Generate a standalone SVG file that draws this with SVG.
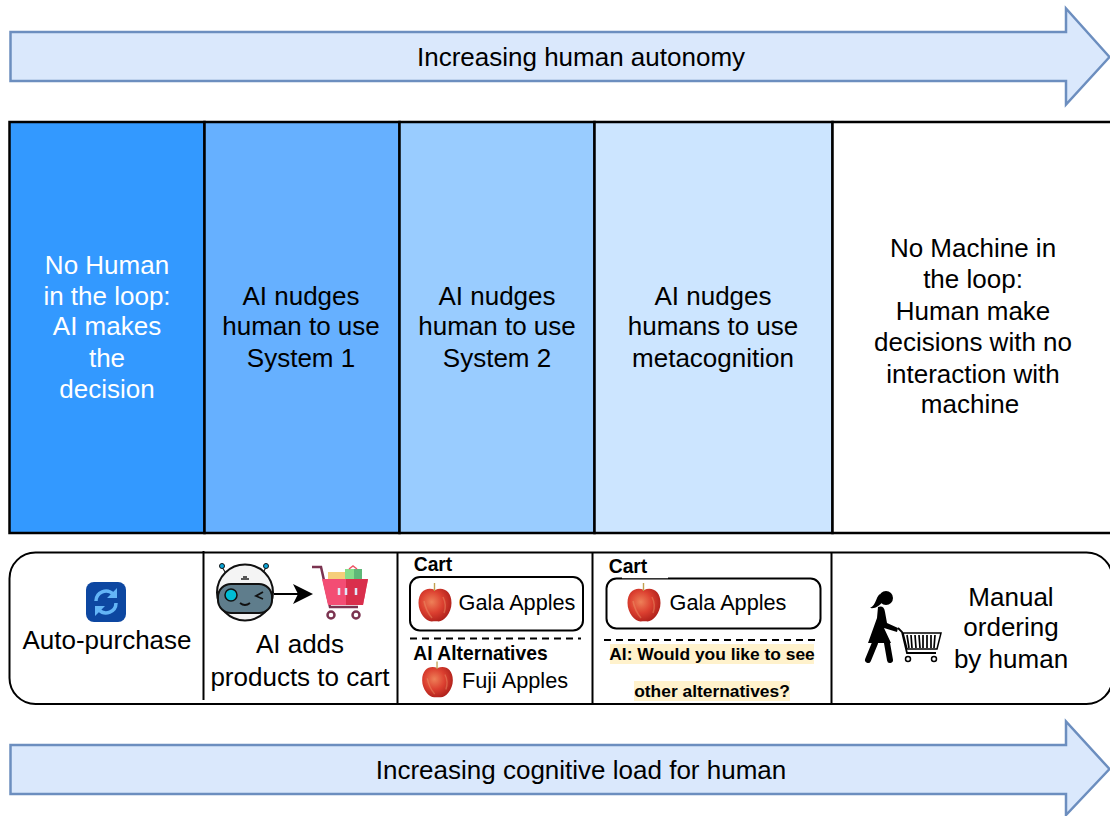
<svg xmlns="http://www.w3.org/2000/svg" width="1110" height="816" viewBox="0 0 1110 816">
<style>
text{font-family:"Liberation Sans",Arial,sans-serif;fill:#000;text-anchor:middle}
.t{font-size:26px}
.m{font-size:26px}
.w{font-size:26px;fill:#fff}
.g{font-size:21.700px}
.b{font-size:19.300px;font-weight:bold}
.q{font-size:17.400px;font-weight:bold}
.arrow{fill:#dae8fc;stroke:#6c8ebf;stroke-width:2.500}
.col{stroke:#000;stroke-width:2.500}
.div{stroke:#000;stroke-width:2;fill:none}
.dash{stroke:#000;stroke-width:2;stroke-dasharray:7 5;fill:none}
.box{fill:#fff;stroke:#000;stroke-width:2}
.hl{fill:#fff2cc}
</style>
<defs>
<radialGradient id="ap" cx="0.4" cy="0.4" r="0.68"><stop offset="0" stop-color="#ee8058"/><stop offset="0.5" stop-color="#dc4030"/><stop offset="1" stop-color="#a81c18"/></radialGradient>
<g id="apple"><path d="M0-15C-8-18.500-16.500-14-16.500-2C-16.500 8-9 16.500-3.500 16.500C-1.500 16.500 1.500 16 3.500 16.500C9 16.500 16.500 8 16.500-2C16.500-14 8-18.500 0-15Z" fill="url(#ap)"/><path d="M-.5-14V-22" stroke="#c0a050" stroke-width="1.400"/><path d="M-11-4Q-9 6-3 13M8-8Q12 0 9 8" fill="none" stroke="#f0a070" stroke-width="1.500" opacity=".4"/></g>
</defs>
<g id="top-arrow"><path class="arrow" d="M10.500 32H1066V8.500L1109.500 57L1066 104.500V81H10.500Z"/><text class="t" x="581" y="66">Increasing human autonomy</text></g>
<g id="bottom-arrow"><path class="arrow" d="M10.500 745H1066V721.500L1109.500 769L1066 815V794H10.500Z"/><text class="t" x="581" y="779">Increasing cognitive load for human</text></g>
<g id="col1"><rect class="col" x="9.500" y="122" width="195" height="411" fill="#3399ff"/><text class="w" x="107" y="274">No Human</text><text class="w" x="107" y="305">in the loop:</text><text class="w" x="107" y="335">AI makes</text><text class="w" x="107" y="367">the</text><text class="w" x="107" y="398">decision</text></g>
<g id="col2"><rect class="col" x="204.500" y="122" width="195" height="411" fill="#66b0ff"/><text class="m" x="301" y="305">AI nudges</text><text class="m" x="301" y="335">human to use</text><text class="m" x="301" y="367">System 1</text></g>
<g id="col3"><rect class="col" x="399.500" y="122" width="195" height="411" fill="#99ccff"/><text class="m" x="497" y="305">AI nudges</text><text class="m" x="497" y="335">human to use</text><text class="m" x="497" y="367">System 2</text></g>
<g id="col4"><rect class="col" x="594.500" y="122" width="238" height="411" fill="#cce5ff"/><text class="m" x="713" y="305">AI nudges</text><text class="m" x="713" y="335">humans to use</text><text class="m" x="713" y="367">metacognition</text></g>
<g id="col5"><rect class="col" x="832.500" y="122" width="290" height="411" fill="#fff"/><text class="m" x="973" y="257">No Machine in</text><text class="m" x="973" y="288">the loop:</text><text class="m" x="973" y="320">Human make</text><text class="m" x="973" y="351">decisions with no</text><text class="m" x="973" y="383">interaction with</text><text class="m" x="970" y="413">machine</text></g>
<g id="panel"><rect x="9.500" y="552.500" width="1103" height="151.500" rx="26" fill="#fff" stroke="#000" stroke-width="2"/><path class="div" d="M203.500 551V700M397.500 552V703M592.500 552V703M831.500 552V703"/></g>
<g id="auto-purchase"><rect x="86" y="582" width="40" height="40" rx="8" fill="#0d47a1"/><g fill="none" stroke="#64b5f6" stroke-width="3.500"><path d="M96 601A10 10 0 0 1 113 594"/><path d="M116 603A10 10 0 0 1 99 610"/></g><path d="M117 588V598H107Z M95 616V606H105Z" fill="#64b5f6"/><text class="m" x="107" y="649">Auto-purchase</text></g>
<g id="ai-adds"><path d="M222 567L227 575M266 567L262 575" stroke="#222" stroke-width="1.200"/><circle cx="222" cy="566" r="2.500" fill="#0aa5d8" stroke="#111"/><circle cx="266" cy="566" r="2.500" fill="#0aa5d8" stroke="#111"/><circle cx="245" cy="592.500" r="28" fill="#f4f4f4" stroke="#111" stroke-width="2"/><path d="M241 579H249M243 577H247" stroke="#222" stroke-width="1.300"/><rect x="218" y="584" width="54" height="29" rx="13" fill="#5f7d8c" stroke="#111" stroke-width="2"/><circle cx="231" cy="595" r="6" fill="#00bcd4" stroke="#111" stroke-width="1.500"/><path d="M263 592L256 596L263 599" fill="none" stroke="#111" stroke-width="1.800"/><path d="M240 603Q245 607 250 603" fill="none" stroke="#111" stroke-width="1.800"/><path d="M274 594H300" stroke="#000" stroke-width="2"/><path d="M313 594L293 584L298 594L293 604Z"/><g id="cart-icon"><rect x="328" y="572" width="18" height="10" fill="#f5ce7a"/><rect x="345" y="569" width="17" height="13" fill="#86dd8a"/><rect x="354" y="569" width="8" height="13" fill="#5fb878"/><path d="M349 569L353 566L357 569" fill="none" stroke="#ee5566" stroke-width="1.500"/><path d="M312 567H321L330 607H358" fill="none" stroke="#7b3350" stroke-width="2.500"/><path d="M322 579H368L363 605H328Z" fill="#f34d74"/><path d="M346 579H368L363 605H346Z" fill="#d92f4c"/><path d="M339 588V595M346 588V595M356 588V595" stroke="#e0e6f8" stroke-width="2.500"/><circle cx="331" cy="615" r="3.500" fill="#fff" stroke="#7b3350" stroke-width="2.500"/><circle cx="356" cy="615" r="3.500" fill="#fff" stroke="#7b3350" stroke-width="2.500"/></g><text class="m" x="300" y="653">AI adds</text><text class="m" x="300" y="686">products to cart</text></g>
<g id="cart-alternatives"><text class="b" x="433" y="571">Cart</text><rect class="box" x="410" y="577" width="173" height="53.500" rx="10"/><use href="#apple" transform="translate(435 605)"/><text class="g" x="517" y="610">Gala Apples</text><path class="dash" d="M410 638.500H581"/><text class="b" x="480.500" y="660">AI Alternatives</text><use href="#apple" transform="translate(437.500 682) scale(.93)"/><text class="g" x="515" y="688">Fuji Apples</text></g>
<g id="cart-prompt"><text class="b" x="628" y="573">Cart</text><rect class="box" x="606.500" y="578.500" width="214" height="50" rx="10"/><rect x="622" y="577" width="46" height="1.200" fill="#fff"/><use href="#apple" transform="translate(644 605)"/><text class="g" x="728" y="610">Gala Apples</text><path class="dash" d="M604 640H819"/><rect class="hl" x="610" y="644" width="204" height="20"/><rect class="hl" x="634" y="681" width="156" height="20"/><text class="q" x="712" y="660">AI: Would you like to see</text><text class="q" x="712" y="697">other alternatives?</text></g>
<g id="manual"><circle cx="886" cy="598" r="7" fill="#000"/><path d="M880 594C875 598 877 604 870 608C877 609 881 604 883 601Z"/><path d="M878 607Q884 605 885 612L887 623L898 628L897 632L884 628L891 643H868L877 618Z"/><path d="M875 643L868 660M887 643L890 660" stroke="#000" stroke-width="6" stroke-linecap="round" fill="none"/><path d="M898 628L902 632L907 653H936" fill="none" stroke="#000" stroke-width="1.800"/><path d="M903 633H941L937 649H907Z" fill="#fff" stroke="#000" stroke-width="1.500"/><path d="M907 635L909 648M911 635L912 648M915 635L916 648M919 635L920 648M923 635L923 648M927 635L927 648M931 635L931 648M935 635L934 648" stroke="#000" stroke-width="1.700"/><circle cx="908" cy="659" r="2.500" fill="#fff" stroke="#000" stroke-width="1.500"/><circle cx="934" cy="659" r="2.500" fill="#fff" stroke="#000" stroke-width="1.500"/><text class="m" x="1011" y="606">Manual</text><text class="m" x="1011" y="636">ordering</text><text class="m" x="1011" y="668">by human</text></g>
</svg>
